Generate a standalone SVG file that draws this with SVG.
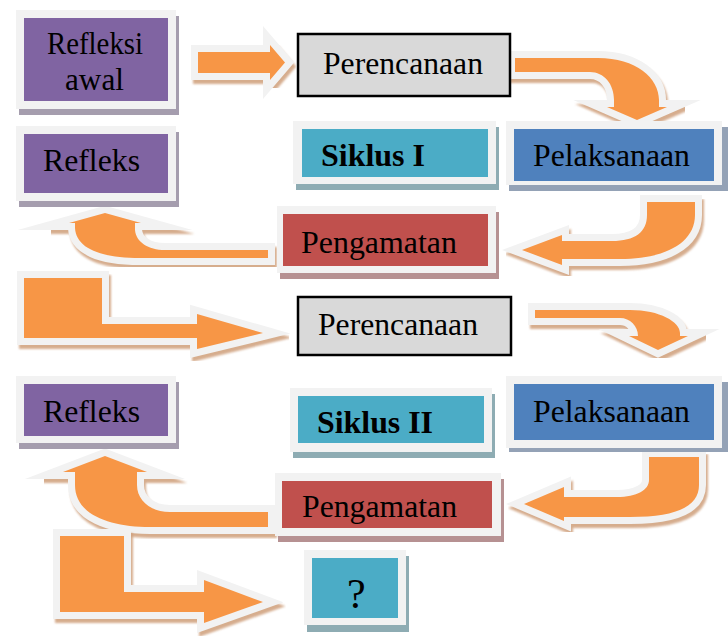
<svg xmlns="http://www.w3.org/2000/svg" xmlns:xlink="http://www.w3.org/1999/xlink" width="728" height="639" viewBox="0 0 728 639">
<defs>
<style>
.sh{fill:#cf9f7a;stroke:#cf9f7a;stroke-width:14;stroke-linejoin:miter;stroke-miterlimit:12;opacity:.85;filter:url(#blur)}
.ol{fill:#f2f2f2;stroke:#f2f2f2;stroke-width:14;stroke-linejoin:miter;stroke-miterlimit:12}
.fi{fill:#f79646}
.frame{fill:#f2f2f2}
.pu{fill:#8064a2}.pus{fill:#a59dae}
.cy{fill:#4bacc6}.cys{fill:#8eacb3}
.bl{fill:#4f81bd}.bls{fill:#94a2b6}
.rd{fill:#c0504d}.rds{fill:#b69192}
.gr{fill:#d9d9d9;stroke:#000;stroke-width:2.5}
text{font-family:"Liberation Serif","Times New Roman",serif;font-size:31px;fill:#000}
.b{font-weight:bold}
</style>
<filter id="blur" x="-10%" y="-10%" width="120%" height="120%"><feGaussianBlur stdDeviation="1"/></filter>
<path id="a1" d="M198,52 L270,52 L270,45 L285,62.5 L270,80 L270,73 L198,73 Z"/>
<path id="a2" d="M515,58 L598,58 C636,58 659,78 659,100 L659,107 L667,107 L637,120 L607,107 L614,107 L614,100 C614,84 604,72 590,72 L515,72 Z"/>
<path id="a3" d="M695,202 L695,215 C695,243 665,259 620,259 L562,259 L562,265 L522,250 L562,235 L562,241 L612,241 C635,241 647,232 647,215 L647,202 Z"/>
<path id="a4" d="M268,250 L165,250 C148,250 136,242 135,230 L135,223 L141,223 L105,213 L69,223 L75,223 L75,228 C76,248 100,258 140,258 L268,258 Z"/>
<path id="a5" d="M24,278 L102,278 L102,324 L197,324 L197,314 L263,333 L197,349 L197,338 L24,338 Z"/>
<path id="a6" d="M535,310 L630,310 C660,310 680,322 680,333 L680,336 L688,336 L658,350 L629,336 L638,336 C638,326 630,318 620,318 L535,318 Z"/>
<path id="a7" d="M699,457 L699,485 C699,505 680,517 630,517 L564,517 L564,521 L524,504 L564,487 L564,497 L617,497 C637,497 649,490 649,480 L649,457 Z"/>
<path id="a8" d="M268,512 L170,512 C150,512 137,500 137,485 L137,472 L147,472 L105,456 L63,472 L75,472 L75,485 C75,515 110,527 150,527 L268,527 Z"/>
<path id="a9" d="M60,536 L124,536 L124,592 L204,592 L204,580 L263,602 L204,623 L204,612 L60,612 Z"/>
</defs>
<rect width="728" height="639" fill="#fff"/>
<g id="connectors">
<g id="arrow1"><use xlink:href="#a1" class="sh" transform="translate(2,4)"/><use xlink:href="#a1" class="ol"/><use xlink:href="#a1" class="fi"/></g>
<g id="arrow2"><use xlink:href="#a2" class="sh" transform="translate(2,4)"/><use xlink:href="#a2" class="ol"/><use xlink:href="#a2" class="fi"/></g>
<g id="arrow3"><use xlink:href="#a3" class="sh" transform="translate(2,4)"/><use xlink:href="#a3" class="ol"/><use xlink:href="#a3" class="fi"/></g>
<g id="arrow4"><use xlink:href="#a4" class="sh" transform="translate(2,4)"/><use xlink:href="#a4" class="ol"/><use xlink:href="#a4" class="fi"/></g>
<g id="arrow5"><use xlink:href="#a5" class="sh" transform="translate(2,4)"/><use xlink:href="#a5" class="ol"/><use xlink:href="#a5" class="fi"/></g>
<g id="arrow6"><use xlink:href="#a6" class="sh" transform="translate(2,4)"/><use xlink:href="#a6" class="ol"/><use xlink:href="#a6" class="fi"/></g>
<g id="arrow7"><use xlink:href="#a7" class="sh" transform="translate(2,4)"/><use xlink:href="#a7" class="ol"/><use xlink:href="#a7" class="fi"/></g>
<g id="arrow8"><use xlink:href="#a8" class="sh" transform="translate(2,4)"/><use xlink:href="#a8" class="ol"/><use xlink:href="#a8" class="fi"/></g>
<g id="arrow9"><use xlink:href="#a9" class="sh" transform="translate(2,4)"/><use xlink:href="#a9" class="ol"/><use xlink:href="#a9" class="fi"/></g>
</g>
<g id="refleksi-awal">
<rect class="pus" x="19" y="16" width="160" height="99"/>
<rect class="frame" x="16" y="10" width="160" height="99"/>
<rect class="pu" x="24" y="18" width="144" height="83"/>
<text x="47" y="54" textLength="96" lengthAdjust="spacingAndGlyphs">Refleksi</text>
<text x="65" y="90" textLength="59" lengthAdjust="spacingAndGlyphs">awal</text>
</g>
<g id="perencanaan-1">
<rect class="gr" x="298" y="34" width="212" height="62"/>
<text x="323" y="74" textLength="160" lengthAdjust="spacingAndGlyphs">Perencanaan</text>
</g>
<g id="refleks-1">
<rect class="pus" x="19" y="132" width="160" height="75"/>
<rect class="frame" x="16" y="126" width="160" height="75"/>
<rect class="pu" x="24" y="134" width="144" height="59"/>
<text x="43" y="171" textLength="97" lengthAdjust="spacingAndGlyphs">Refleks</text>
</g>
<g id="siklus-1">
<rect class="cys" x="296" y="127" width="203" height="63"/>
<rect class="frame" x="293" y="121" width="203" height="63"/>
<rect class="cy" x="302" y="129" width="186" height="48"/>
<text class="b" x="321" y="166" textLength="104" lengthAdjust="spacingAndGlyphs">Siklus I</text>
</g>
<g id="pelaksanaan-1">
<rect class="bls" x="509" y="127" width="219" height="64"/>
<rect class="frame" x="506" y="121" width="216" height="64"/>
<rect class="bl" x="514" y="129" width="200" height="52"/>
<text x="533" y="166" textLength="157" lengthAdjust="spacingAndGlyphs">Pelaksanaan</text>
</g>
<g id="pengamatan-1">
<rect class="rds" x="280" y="212" width="219" height="67"/>
<rect class="frame" x="277" y="206" width="219" height="67"/>
<rect class="rd" x="283" y="214" width="205" height="52"/>
<text x="301" y="253" textLength="156" lengthAdjust="spacingAndGlyphs">Pengamatan</text>
</g>
<g id="perencanaan-2">
<rect class="gr" x="298" y="297" width="213" height="58"/>
<text x="318" y="335" textLength="160" lengthAdjust="spacingAndGlyphs">Perencanaan</text>
</g>
<g id="refleks-2">
<rect class="pus" x="19" y="382" width="160" height="67"/>
<rect class="frame" x="16" y="376" width="160" height="67"/>
<rect class="pu" x="24" y="384" width="144" height="52"/>
<text x="43" y="422" textLength="97" lengthAdjust="spacingAndGlyphs">Refleks</text>
</g>
<g id="siklus-2">
<rect class="cys" x="293" y="394" width="202" height="64"/>
<rect class="frame" x="290" y="388" width="202" height="64"/>
<rect class="cy" x="298" y="396" width="186" height="47"/>
<text class="b" x="317" y="433" textLength="116" lengthAdjust="spacingAndGlyphs">Siklus II</text>
</g>
<g id="pelaksanaan-2">
<rect class="bls" x="509" y="382" width="219" height="70"/>
<rect class="frame" x="506" y="376" width="216" height="72"/>
<rect class="bl" x="514" y="384" width="200" height="56"/>
<text x="533" y="422" textLength="157" lengthAdjust="spacingAndGlyphs">Pelaksanaan</text>
</g>
<g id="pengamatan-2">
<rect class="rds" x="278" y="479" width="226" height="63"/>
<rect class="frame" x="275" y="473" width="226" height="63"/>
<rect class="rd" x="282" y="481" width="210" height="47"/>
<text x="302" y="517" textLength="155" lengthAdjust="spacingAndGlyphs">Pengamatan</text>
</g>
<g id="question">
<rect class="cys" x="307" y="556" width="102" height="76"/>
<rect class="frame" x="304" y="550" width="102" height="75"/>
<rect class="cy" x="312" y="558" width="86" height="60"/>
<text x="347" y="608" style="font-size:42px">?</text>
</g>
</svg>
